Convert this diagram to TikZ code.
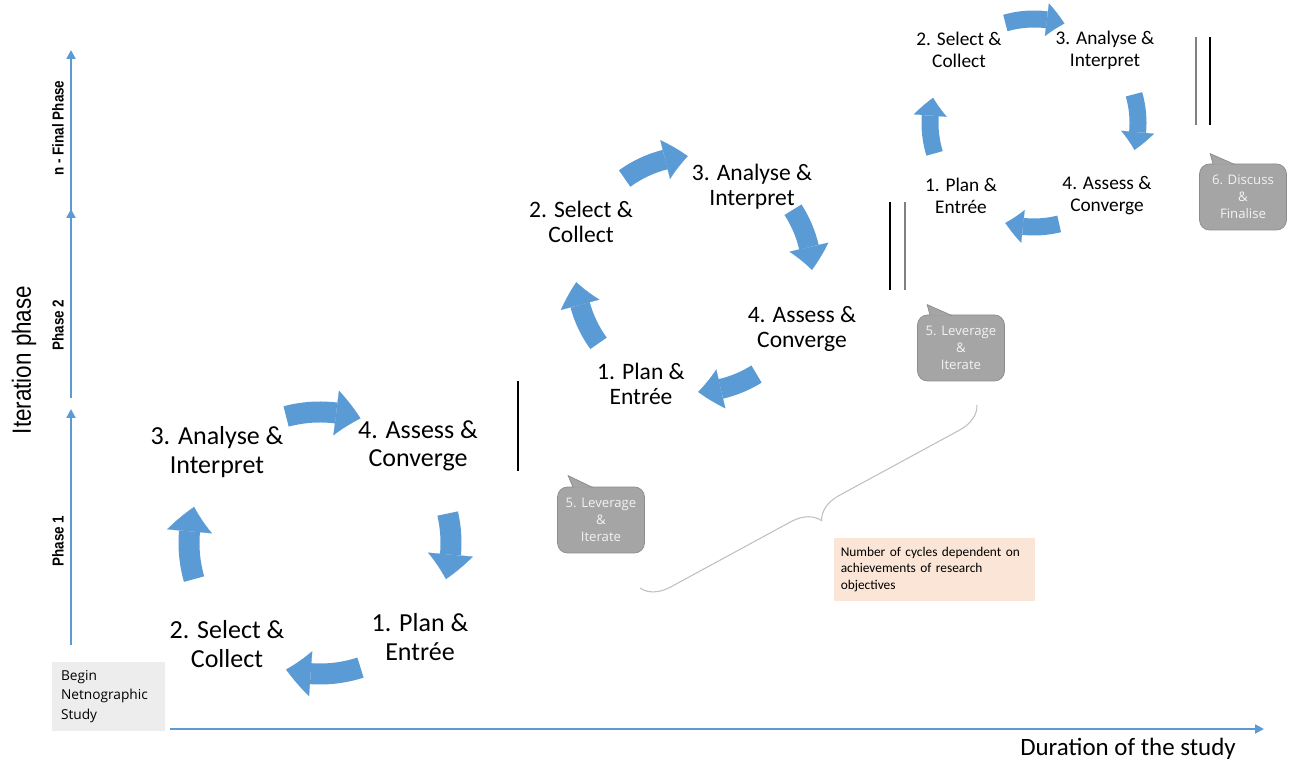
\documentclass[tikz,border=0pt]{standalone}
\usepackage{fontspec}
\setmainfont{Carlito}
\newfontfamily\axisfont[FakeStretch=0.85]{Liberation Sans}
\newfontfamily\boxfont{Open Sans}
\usepackage{xcolor}
\usepackage{tikz}
\usetikzlibrary{arrows.meta, bending, decorations.pathreplacing}

\definecolor{cycleblue}{HTML}{5B9BD5}
\definecolor{calloutgray}{HTML}{A5A5A5}
\definecolor{calloutedge}{HTML}{8C8C8C}
\definecolor{callouttext}{HTML}{F2F2F2}
\definecolor{notepeach}{HTML}{FBE5D6}
\definecolor{startgray}{HTML}{EDEDED}
\definecolor{bracegray}{HTML}{BFBFBF}

\begin{document}
\begin{tikzpicture}[
    x=0.02cm, y=0.02cm,
    stage/.style={align=center, inner sep=0pt, font=\fontsize{14.8}{16.2}\selectfont},
    stagemid/.style={stage, font=\fontsize{13.4}{14.2}\selectfont},
    stagesmall/.style={stage, font=\fontsize{11}{12.5}\selectfont},
    cyclebig/.style={draw=cycleblue, line width=0.42cm, -{Triangle[length=0.5cm, width=0.9cm, line width=0.1pt, bend]}},
    cyclemid/.style={draw=cycleblue, line width=0.4cm, -{Triangle[length=0.46cm, width=0.8cm, line width=0.1pt, bend]}},
    cyclesmall/.style={draw=cycleblue, line width=0.34cm, -{Triangle[length=0.36cm, width=0.66cm, line width=0.1pt, bend]}},
    axis/.style={draw=cycleblue, line width=1.2pt, -{Triangle[length=5pt, width=5pt]}},
    phase/.style={rotate=90, inner sep=0pt, font=\axisfont\bfseries\fontsize{9}{10}\selectfont},
    callout/.style={rectangle, rounded corners=0.2cm, fill=calloutgray, draw=calloutedge, text=callouttext,
        align=center, minimum width=1.74cm, minimum height=1.32cm, inner sep=1pt,
        font=\boxfont\fontsize{7.5}{9.7}\selectfont},
    callouttail/.style={fill=calloutgray, draw=calloutedge},
    divider/.style={line width=1.1pt},
    brace/.style={draw=bracegray, line width=0.6pt, decorate,
        decoration={brace, mirror, amplitude=0.55cm, aspect=0.5}}
]
\useasboundingbox (0,0) rectangle (1290,763);

% Axes
\coordinate (v0) at (71,118);
\coordinate (v1) at (71,354);
\coordinate (v2) at (71,365);
\coordinate (v3) at (71,554);
\coordinate (v4) at (71,551);
\coordinate (v5) at (71,713);
\coordinate (h0) at (170,34);
\coordinate (h1) at (1264,34);
\draw [axis] (v0) -- (v1);
\draw [axis] (v2) -- (v3);
\draw [axis] (v4) -- (v5);
\draw [axis] (h0) -- (h1);

\node [phase] (ph1) at (58,222) {Phase 1};
\node [phase] (ph2) at (58,438) {Phase 2};
\node [phase] (phn) at (58,635) {n - Final Phase};
\node [rotate=90, font=\axisfont\fontsize{15}{17}\selectfont] (iter) at (24,403) {Iteration phase};
\node [font=\fontsize{14.2}{16}\selectfont] (dur) at (1128,14) {Duration of the study};

\node [fill=startgray, minimum width=2.26cm, minimum height=1.38cm, text width=1.9cm, align=left,
    font=\boxfont\fontsize{7.8}{11}\selectfont] (begin) at (108.5,66.5) {Begin\\Netnographic\\Study};

% Cycle 1
\coordinate (c1) at (320,220);
\node [stage] (p1) at (420,126) {1. Plan \&\\Entrée};
\node [stage] (s1) at (227,119) {2. Select \&\\Collect};
\node [stage] (a1) at (217,311) {3. Analyse \&\\Interpret};
\node [stage] (e1) at (418,317) {4. Assess \&\\Converge};
\draw [cyclebig] ([shift={(105:131)}]c1) arc[start angle=105, end angle=72, radius=131];
\draw [cyclebig] ([shift={(13:131)}]c1) arc[start angle=13, end angle=-16, radius=131];
\draw [cyclebig] ([shift={(-72:131)}]c1) arc[start angle=-72, end angle=-105, radius=131];
\draw [cyclebig] ([shift={(196:131)}]c1) arc[start angle=196, end angle=164, radius=131];
\draw [divider] (518,382) -- (518,292);

\node [callout] (lev1) at (601,243) {5. Leverage\\\&\\Iterate};
\filldraw [callouttail] ([shift={(16,-1)}]lev1.north west) -- ([shift={(11,11)}]lev1.north west) -- ([shift={(36,-1)}]lev1.north west);

% Cycle 2
\coordinate (c2) at (694,489);
\node [stagemid] (s2) at (581,541) {2. Select \&\\Collect};
\node [stagemid] (a2) at (752,576) {3. Analyse \&\\Interpret};
\node [stagemid] (e2) at (802,434) {4. Assess \&\\Converge};
\node [stagemid] (p2) at (641,379) {1. Plan \&\\Entrée};
\draw [cyclemid] ([shift={(126:118)}]c2) arc[start angle=126, end angle=93, radius=118];
\draw [cyclemid] ([shift={(33:118)}]c2) arc[start angle=33, end angle=2, radius=118];
\draw [cyclemid] ([shift={(-58:118)}]c2) arc[start angle=-58, end angle=-88, radius=118];
\draw [cyclemid] ([shift={(216:118)}]c2) arc[start angle=216, end angle=184, radius=118];
\draw [divider] (890,561) -- (890,473);
\draw [divider, gray] (905,561) -- (905,473);

\node [callout] (lev2) at (961,415) {5. Leverage\\\&\\Iterate};
\filldraw [callouttail] ([shift={(13,-1)}]lev2.north west) -- ([shift={(10,10)}]lev2.north west) -- ([shift={(35,-1)}]lev2.north west);

% Cycle n
\coordinate (c3) at (1034,640);
\node [stagesmall] (s3) at (959,713) {2. Select \&\\Collect};
\node [stagesmall] (a3) at (1105,713) {3. Analyse \&\\Interpret};
\node [stagesmall] (p3) at (961,567) {1. Plan \&\\Entrée};
\node [stagesmall] (e3) at (1107,567) {4. Assess \&\\Converge};
\draw [cyclesmall] ([shift={(106:104)}]c3) arc[start angle=106, end angle=73, radius=104];
\draw [cyclesmall] ([shift={(16:104)}]c3) arc[start angle=16, end angle=-15, radius=104];
\draw [cyclesmall] ([shift={(-76:104)}]c3) arc[start angle=-76, end angle=-106, radius=104];
\draw [cyclesmall] ([shift={(197:104)}]c3) arc[start angle=197, end angle=166, radius=104];
\draw [divider, gray] (1196,726) -- (1196,638);
\draw [divider] (1210,726) -- (1210,638);

\node [callout] (fin) at (1243,566) {6. Discuss\\\&\\Finalise};
\filldraw [callouttail] ([shift={(14,-1)}]fin.north west) -- ([shift={(11,10)}]fin.north west) -- ([shift={(36,-1)}]fin.north west);

% Number of cycles
\coordinate (b0) at (640,175);
\coordinate (b1) at (977,358);
\draw [brace] (b0) -- (b1);
\node [fill=notepeach, minimum width=4.02cm, minimum height=1.26cm, text width=3.75cm, align=left,
    font=\fontsize{7.6}{9.4}\selectfont] (cycles) at (934.5,193.5)
    {Number of cycles dependent on\\achievements of research\\objectives};
\end{tikzpicture}
\end{document}
